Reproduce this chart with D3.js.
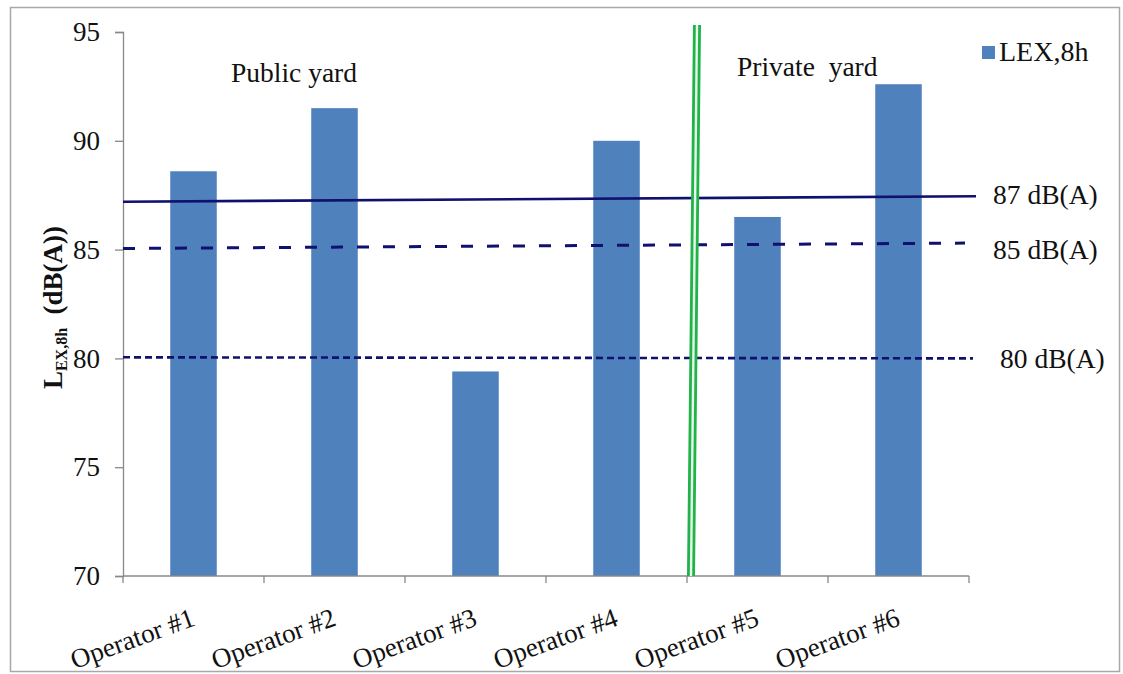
<!DOCTYPE html>
<html>
<head>
<meta charset="utf-8">
<script src="https://cdn.jsdelivr.net/npm/d3@7/dist/d3.min.js"></script>
<style>
  html, body { margin: 0; padding: 0; background: #fff; }
  svg text { font-family: "Liberation Serif", "DejaVu Serif", serif !important; fill: #111; }
</style>
</head>
<body>
<svg id="chart" width="1123" height="674"></svg>
<script>
// ---- data ----
const categories = ["Operator #1", "Operator #2", "Operator #3", "Operator #4", "Operator #5", "Operator #6"];
const lexValues = [88.6, 91.5, 79.4, 90.0, 86.5, 92.6];
const yTicks = [70, 75, 80, 85, 90, 95];
const refLabels = ["87 dB(A)", "85 dB(A)", "80 dB(A)"];
const refStart = [87.2, 85.05, 80.05];   // value at left end (lines are hand drawn, slightly tilted)
const refEnd = [87.45, 85.3, 80.0];      // value at right end
const seriesName = "LEX,8h";
const zoneLabels = ["Public yard", "Private  yard"];

(function () {
// ---- layout ----
const svg = d3.select("#chart");
const pLeft = 123, pRight = 969, pTop = 32, pBottom = 576;
const FONT = "'Liberation Serif', 'DejaVu Serif', serif";

const x = d3.scaleBand().domain(categories).range([pLeft, pRight]).paddingInner(0.67).paddingOuter(0.335);
const y = d3.scaleLinear().domain([70, 95]).range([pBottom, pTop]);

// outer frame
svg.append("rect").attr("x", 10.5).attr("y", 7.5).attr("width", 1109).attr("height", 664)
  .attr("fill", "none").attr("stroke", "#a8a8a8").attr("stroke-width", 1.5);

// bars
svg.append("g").selectAll("rect").data(lexValues).join("rect")
  .attr("x", (d, i) => x(categories[i]))
  .attr("y", d => y(d))
  .attr("width", x.bandwidth())
  .attr("height", d => y(70) - y(d))
  .attr("fill", "#4F81BD");

// y axis
const yAxis = svg.append("g").attr("transform", `translate(${pLeft},0)`)
  .call(d3.axisLeft(y).tickValues(yTicks).tickSize(8).tickPadding(15).tickFormat(d3.format("d")));
yAxis.attr("font-family", FONT);
yAxis.select(".domain").attr("stroke", "#888").attr("stroke-width", 1.3);
yAxis.selectAll(".tick line").attr("stroke", "#888").attr("stroke-width", 1.3);
yAxis.selectAll(".tick text").attr("font-size", 27).attr("fill", "#111");

// x axis (ticks at category boundaries)
const step = x.step();
const boundaries = d3.range(categories.length + 1).map(i => pLeft + i * step);
svg.append("line").attr("x1", pLeft).attr("x2", pRight).attr("y1", pBottom).attr("y2", pBottom)
  .attr("stroke", "#888").attr("stroke-width", 1.3);
svg.append("g").selectAll("line").data(boundaries).join("line")
  .attr("x1", d => d).attr("x2", d => d).attr("y1", pBottom).attr("y2", pBottom + 7)
  .attr("stroke", "#888").attr("stroke-width", 1.3);

// x labels rotated
svg.append("g").attr("font-family", FONT).selectAll("text").data(categories).join("text")
  .attr("text-anchor", "end")
  .attr("font-size", 27)
  .attr("transform", d => `translate(${x(d) + x.bandwidth() / 2 + 3},${pBottom + 49}) rotate(-20)`)
  .text(d => d);

// reference lines
const refEndX = [pRight + 7, pRight - 4, pRight + 4];
const refDash = [null, "12,14", "7,4"];
const refWidth = [2.6, 3, 2.6];
refLabels.forEach((lab, i) => {
  svg.append("line")
    .attr("x1", pLeft).attr("x2", refEndX[i])
    .attr("y1", y(refStart[i])).attr("y2", y(refEnd[i]))
    .attr("stroke", "#10106e").attr("stroke-width", refWidth[i])
    .attr("stroke-dasharray", refDash[i]);
});
const labelX = [993, 993, 1000];
const labelDy = [8, 16, 10];
refLabels.forEach((lab, i) => {
  svg.append("text").attr("font-family", FONT).attr("x", labelX[i]).attr("y", y(refEnd[i]) + labelDy[i])
    .attr("font-size", 27.5).text(lab);
});

// green separator (double line) between Operator #4 and #5
const sepX = x(categories[4]) - step * x.paddingInner() / 2;
svg.append("line").attr("x1", sepX + 10).attr("y1", 25).attr("x2", sepX + 4).attr("y2", pBottom)
  .attr("stroke", "#22b24c").attr("stroke-width", 8);
svg.append("line").attr("x1", sepX + 10).attr("y1", 25).attr("x2", sepX + 4).attr("y2", pBottom)
  .attr("stroke", "#e6f7e8").attr("stroke-width", 2.4);

// zone labels
svg.append("text").attr("font-family", FONT).attr("x", 231).attr("y", 82).attr("font-size", 27.5).text(zoneLabels[0]);
svg.append("text").attr("font-family", FONT).attr("x", 737).attr("y", 76).attr("font-size", 27.5).attr("xml:space", "preserve").text(zoneLabels[1]);

// legend
svg.append("rect").attr("x", 982).attr("y", 46).attr("width", 13).attr("height", 13).attr("fill", "#4F81BD");
svg.append("text").attr("font-family", FONT).attr("x", 999).attr("y", 61).attr("font-size", 28).text(seriesName);

// y axis title
const yt = svg.append("text")
  .attr("font-family", FONT)
  .attr("transform", `translate(62,${(222 + 393) / 2}) rotate(-90)`)
  .attr("text-anchor", "middle")
  .attr("font-weight", "bold")
  .attr("font-size", 27)
  .attr("xml:space", "preserve");
yt.append("tspan").text("L");
yt.append("tspan").attr("font-size", 16).attr("dy", 5).text("EX,8h");
yt.append("tspan").attr("dy", -5).text("  (dB(A))");
})();
</script>
</body>
</html>
